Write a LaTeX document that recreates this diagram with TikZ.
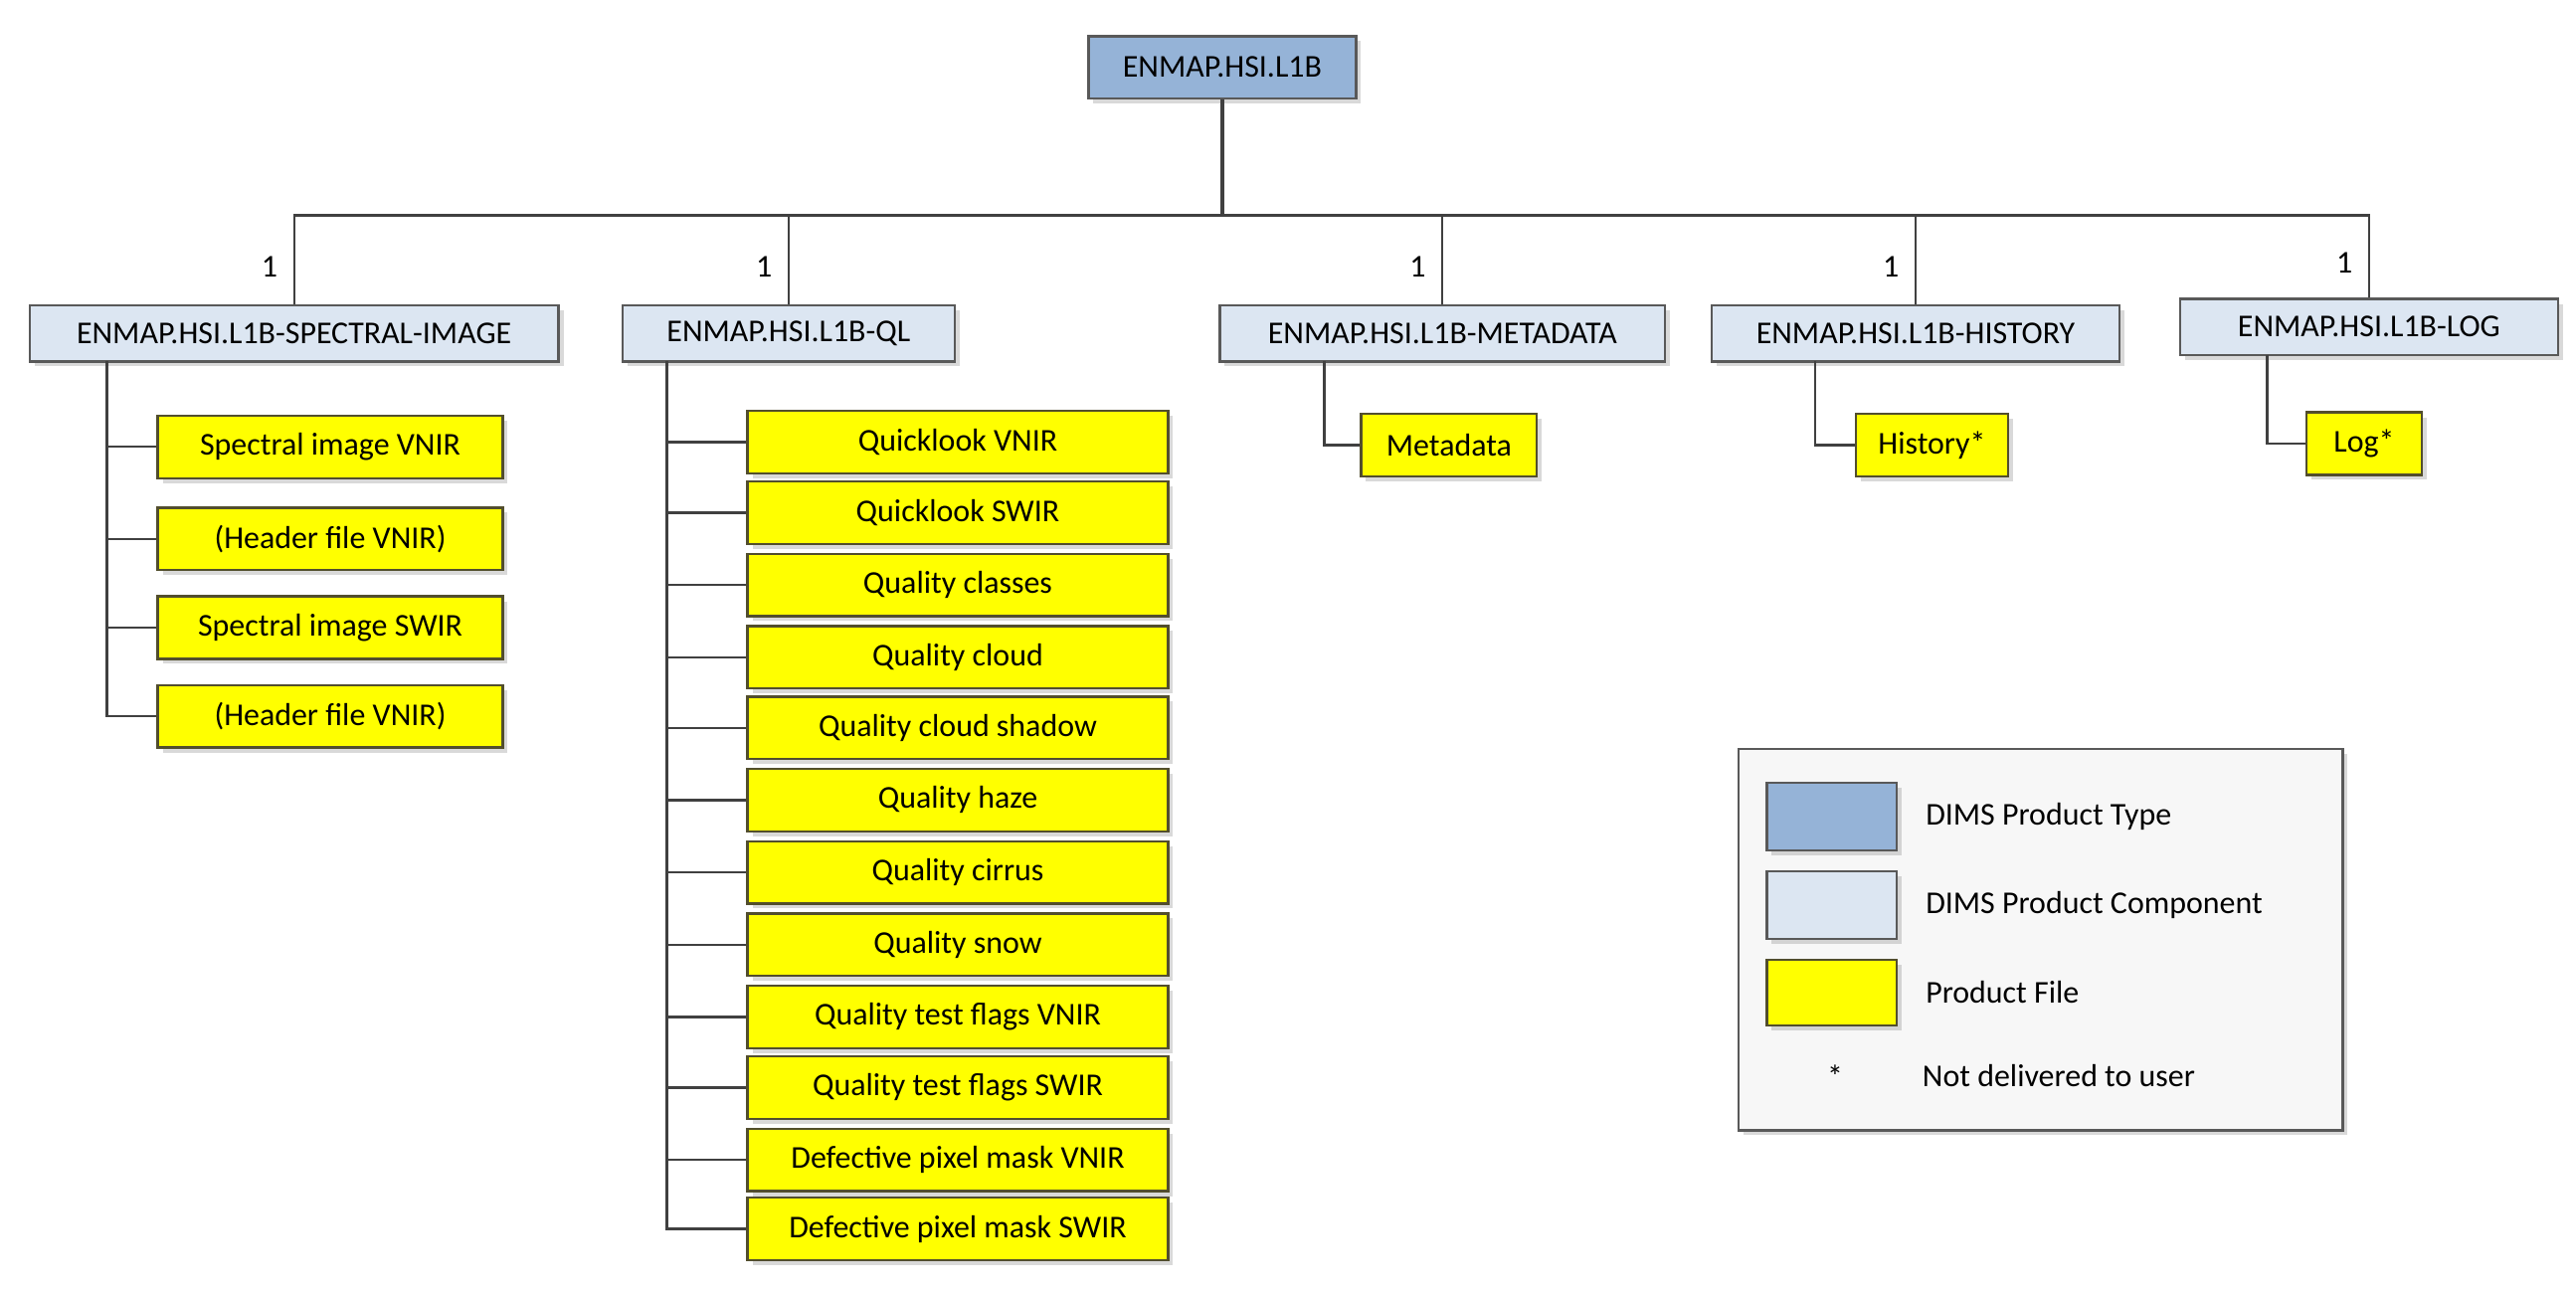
\documentclass[tikz,border=0pt]{standalone}
\usepackage{fontspec}
\setmainfont{Carlito}
\usetikzlibrary{shadows,positioning}
\definecolor{typeblue}{HTML}{95B3D7}
\definecolor{compblue}{HTML}{DCE6F2}
\definecolor{fileyellow}{HTML}{FFFF00}
\tikzset{%
	% Specifications for style of nodes:
	base/.style = {rectangle, draw=black!65, thick, text centered, inner sep=0pt,
	drop shadow={shadow xshift=0.6mm, shadow yshift=-0.6mm, opacity=0.3}},
	ptype/.style = {base, fill=typeblue, minimum height=0.76cm},
	comp/.style = {base, fill=compblue, minimum height=0.68cm},
	pfile/.style = {base, fill=fileyellow, draw=black!55!olive, minimum height=0.76cm},
	link/.style = {draw=black!75, thick}
}
\begin{document}
\begin{tikzpicture}[x=0.02cm, y=-0.02cm,
		every node/.style={font=\fontsize{11}{13}\selectfont}]
		\useasboundingbox (0,0) rectangle (1568,788);
		% Product type and components
		\node (root) [ptype, minimum width=3.26cm] at (744,41) {ENMAP.HSI.L1B};
		\node (c1) [comp, minimum width=6.44cm] at (179,203) {ENMAP.HSI.L1B-SPECTRAL-IMAGE};
		\node (c2) [comp, minimum width=4.04cm] at (480,203) {ENMAP.HSI.L1B-QL};
		\node (c3) [comp, minimum width=5.42cm] at (878,203) {ENMAP.HSI.L1B-METADATA};
		\node (c4) [comp, minimum width=4.96cm] at (1166,203) {ENMAP.HSI.L1B-HISTORY};
		\node (c5) [comp, minimum width=4.6cm] at (1442,199) {ENMAP.HSI.L1B-LOG};
		\coordinate (bus) at (744,131);
		\draw[link, very thick] (root) -- (bus);
		\foreach \c in {c1,c2,c3,c4,c5}
			\draw[link] (bus) -| node[pos=0.79, left=2pt] {1} (\c.north);
		% Files of the spectral image
		\coordinate (t1) at (65,220);
		\foreach \y/\txt [count=\i] in {272/Spectral image VNIR, 328/(Header file VNIR),
			382/Spectral image SWIR, 436/(Header file VNIR)} {
			\node (f1\i) [pfile, minimum width=4.2cm] at (201,\y) {\txt};
			\draw[link] (t1) |- (f1\i.west);
		}
		% Files of the quicklook
		\coordinate (t2) at (406,220);
		\foreach \y/\txt [count=\i] in {269/Quicklook VNIR, 312/Quicklook SWIR,
			356/Quality classes, 400/Quality cloud, 443/Quality cloud shadow,
			487/Quality haze, 531/Quality cirrus, 575/Quality snow,
			619/Quality test flags VNIR, 662/Quality test flags SWIR,
			706/Defective pixel mask VNIR, 748/Defective pixel mask SWIR} {
			\node (f2\i) [pfile, minimum width=5.12cm] at (583,\y) {\txt};
			\draw[link] (t2) |- (f2\i.west);
		}
		% Single files
		\node (f31) [pfile, minimum width=2.14cm] at (882,271) {Metadata};
		\node (f41) [pfile, minimum width=1.86cm] at (1176,271) {History*};
		\node (f51) [pfile, minimum width=1.4cm] at (1439,270) {Log*};
		\coordinate (t3) at (806,220);
		\coordinate (t4) at (1105,220);
		\coordinate (t5) at (1380,216);
		\draw[link] (t3) |- (f31.west);
		\draw[link] (t4) |- (f41.west);
		\draw[link] (t5) |- (f51.west);
		% Legend
		\node (legend) [base, fill=black!3, minimum width=7.36cm, minimum height=4.64cm] at (1242,572) {};
		\node (l1) [ptype, minimum width=1.58cm, minimum height=0.82cm] at (1115,497) {};
		\node (l2) [comp, minimum width=1.58cm, minimum height=0.82cm] at (1115,551) {};
		\node (l3) [pfile, minimum width=1.58cm, minimum height=0.8cm] at (1115,604) {};
		\node (l4) at (1117,655) {*};
		\node [anchor=west] at (1166,497) {DIMS Product Type};
		\node [anchor=west] at (1166,551) {DIMS Product Component};
		\node [anchor=west] at (1166,604) {Product File};
		\node [anchor=west] at (1164,655) {Not delivered to user};
\end{tikzpicture}
\end{document}
